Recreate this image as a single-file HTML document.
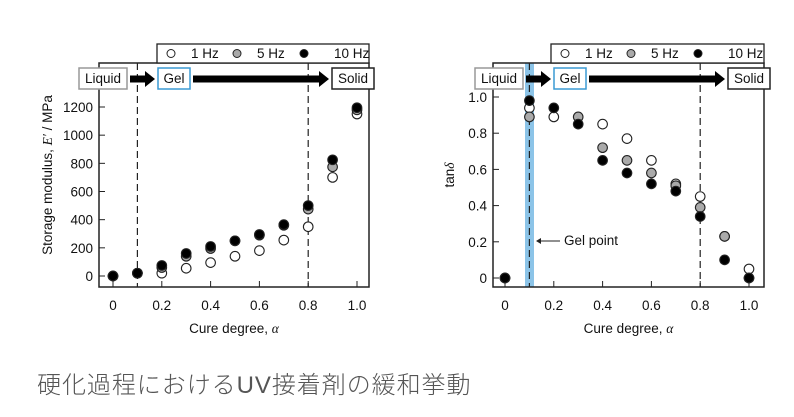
<!DOCTYPE html>
<html><head><meta charset="utf-8"><style>
body{margin:0;background:#fff;width:794px;height:417px;overflow:hidden}
svg{position:absolute;left:0;top:0}
.t{font-family:"Liberation Sans",sans-serif;font-size:13.5px;fill:#111}
.title{position:absolute;left:37px;top:365px;font-family:"Liberation Sans","Noto Sans CJK JP",sans-serif;font-size:24px;color:#555;font-weight:300;letter-spacing:0.95px;white-space:nowrap}
</style></head><body>
<svg id="s" width="794" height="417" xmlns="http://www.w3.org/2000/svg"></svg>
<div class="title">硬化過程におけるUV接着剤の緩和挙動</div>
<script>
const s=document.getElementById('s');let h='';
function chart(o){
 const X=v=>o.x0+v*244, Y=v=>o.y0-v*o.ys;
 if(o.band) h+=`<rect x="${o.band[0]}" y="63" width="${o.band[1]-o.band[0]}" height="224" fill="#8cc4e8"/>`;
 h+=`<rect x="${o.fl}" y="63" width="${o.fr-o.fl}" height="224" fill="none" stroke="#222" stroke-width="1.5"/>`;
 [0.1,0.8].forEach(v=>h+=`<line x1="${X(v)}" y1="63" x2="${X(v)}" y2="287" stroke="#222" stroke-width="1.2" stroke-dasharray="7,4"/>`);
 for(let i=0;i<=10;i+=2){const x=X(i/10);h+=`<line x1="${x}" y1="287" x2="${x}" y2="281" stroke="#222"/><text class="t" x="${x}" y="310" text-anchor="middle">${i==0?'0':i==10?'1.0':(i/10).toFixed(1)}</text>`;}
 o.yt.forEach(v=>{const y=Y(v);h+=`<line x1="${o.fl}" y1="${y}" x2="${o.fl+6}" y2="${y}" stroke="#222"/><text class="t" x="${o.fl-6}" y="${y+5}" text-anchor="end">${o.yf(v)}</text>`;});
 h+=`<text class="t" x="${(o.fl+o.fr)/2}" y="333" text-anchor="middle">Cure degree, <tspan font-family="Liberation Serif" font-style="italic">α</tspan></text>`;
 h+=`<text class="t" transform="translate(${o.ylx},175) rotate(-90)" text-anchor="middle">${o.ylab}</text>`;
 const L=o.lg;h+=`<rect x="${L}" y="44" width="${o.fr-L}" height="19" fill="#fff" stroke="#222" stroke-width="1.3"/>`;
 [['#fff','1 Hz',0],['#aaa','5 Hz',66],['#000','10 Hz',133]].forEach(a=>{h+=`<circle cx="${L+14+a[2]}" cy="53.5" r="4" fill="${a[0]}" stroke="#222"/><text class="t" x="${L+34+a[2]+(a[1]=='10 Hz'?10:0)}" y="58" font-size="12.5">${a[1]}</text>`;});
 const bx=(x1,x2,t,c)=>{h+=`<rect x="${x1}" y="68" width="${x2-x1}" height="21" fill="#fff" stroke="${c}" stroke-width="1.5"/><text class="t" x="${(x1+x2)/2}" y="83" text-anchor="middle">${t}</text>`;};
 bx(o.bL,o.bL+48,'Liquid','#999');bx(o.bG,o.bG+32,'Gel','#3a9ad4');bx(o.bS,o.bS+42,'Solid','#222');
 const ar=(x1,x2)=>{h+=`<rect x="${x1}" y="75.5" width="${x2-x1-9}" height="7" fill="#000"/><polygon points="${x2-10},71 ${x2},79 ${x2-10},87" fill="#000"/>`;};
 ar(o.bL+51,o.bG-3);ar(o.bG+35,o.bS-3);
 [[o.d1,'#fff'],[o.d5,'#aaa'],[o.d10,'#000']].forEach(d=>d[0].forEach((v,i)=>{if(v!=null)h+=`<circle cx="${X(i/10)}" cy="${Y(v)}" r="4.8" fill="${d[1]}" stroke="#222" stroke-width="1.1"/>`;}));
 if(o.extra)h+=o.extra;
}
chart({x0:113,y0:276,ys:169/1200,fl:99,fr:369,lg:157,bL:79,bG:158,bS:332,ylx:52,
 yt:[0,200,400,600,800,1000,1200],yf:v=>v,ylab:'Storage modulus, <tspan font-family="Liberation Serif" font-style="italic">E′</tspan> / MPa',
 d1:[0,20,20,55,95,140,180,255,350,700,1150],d5:[0,20,60,140,195,250,290,360,475,775,1180],d10:[0,20,75,160,210,250,295,365,500,825,1195]});
chart({x0:505,y0:278,ys:181,fl:493,fr:764,lg:551,bL:475,bG:554,bS:728,ylx:454,band:[525,534],
 yt:[0,0.2,0.4,0.6,0.8,1.0],yf:v=>v==0?'0':v.toFixed(1),ylab:'tan<tspan font-family="Liberation Serif" font-style="italic">δ</tspan>',
 d1:[0,0.94,0.89,null,0.85,0.77,0.65,0.52,0.45,0.23,0.05],d5:[0,0.89,null,0.89,0.72,0.65,0.58,0.51,0.39,0.23,0],d10:[0,0.98,0.94,0.85,0.65,0.58,0.52,0.48,0.34,0.10,0],
 extra:`<line x1="538" y1="241" x2="560" y2="241" stroke="#222"/><polygon points="536,241 541,238 541,244" fill="#222"/><text class="t" x="564" y="245" font-size="12.5">Gel point</text>`});
s.innerHTML=h;
</script>
</body></html>
